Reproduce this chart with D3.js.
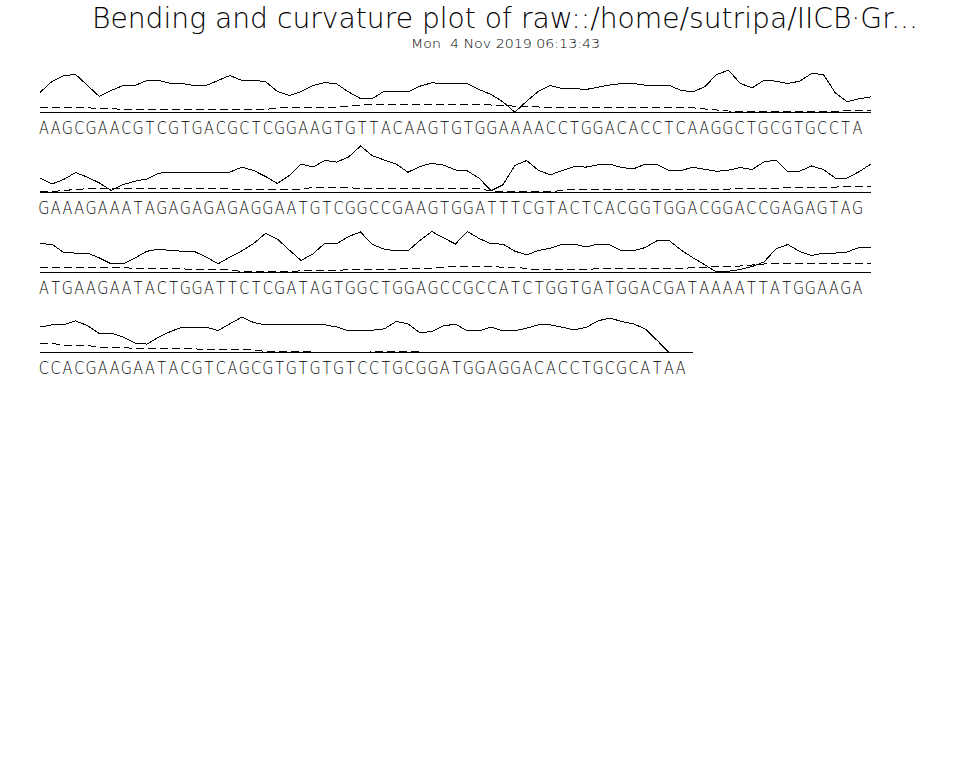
<!DOCTYPE html>
<html><head><meta charset="utf-8">
<script src="https://cdn.jsdelivr.net/npm/d3@7"></script>
<style>
body{margin:0;background:#fff}
svg text{font-family:"DejaVu Sans",sans-serif;font-weight:200;fill:#000;white-space:pre}
</style>
</head><body>
<svg id="c" width="960" height="768"></svg>
<script>
const titleText = "Bending and curvature plot of raw::/home/sutripa/IICB\u00b7Gr...";
const subtitleText = "Mon  4 Nov 2019 06:13:43";

const seq1 = "AAGCGAACGTCGTGACGCTCGGAAGTGTTACAAGTGTGGAAAACCTGGACACCTCAAGGCTGCGTGCCTA";
const seq2 = "GAAAGAAATAGAGAGAGAGGAATGTCGGCCGAAGTGGATTTCGTACTCACGGTGGACGGACCGAGAGTAG";
const seq3 = "ATGAAGAATACTGGATTCTCGATAGTGGCTGGAGCCGCCATCTGGTGATGGACGATAAAATTATGGAAGA";
const seq4 = "CCACGAAGAATACGTCAGCGTGTGTGTCCTGCGGATGGAGGACACCTGCGCATAA";

const bend1 = [20,31,37,38,27,16,22,27,27,32,32,29,29,27,27,32,37,32,32,31,21,17,21,27,30,28.5,20.5,14,14,21.3,20.7,20.7,26.3,29.7,29,29,29,23,18,10.7,0.3,11.3,21.3,27,24,24,23,25.3,27.5,29,29,27.3,27.3,27.3,22,20.7,25.7,38,42.3,29,24.7,32.3,31.3,29,31.3,39,38,19.7,10.7,13.7,15.7];
const curve1 = [4.7,4.7,4.7,4.7,4.7,4,4,3,3,3,3,3,3,3,3,3,3,3,3,3,4.7,4.7,4.7,4.7,4.7,5.5,6.5,7.5,8,8,8,8,8,8,8,8,8,8,7.5,7,6.3,6,5.5,5.3,5.3,5.3,5.3,5.3,5.3,5.3,5.3,4.7,4.7,4.7,4.7,4.7,3.5,2.5,1.5,1,0.7,0.7,0.7,0.7,0.7,0.7,0.7,0.7,2,2,2];

const bend2 = [14.4,8.5,13,20,15.3,9.6,2,7.9,11.3,13.5,19.3,20.4,20.4,20.4,20.4,20.4,20.4,25.4,22,16,9,17,28.4,25.4,32,30.4,35.5,46.5,36.8,32.5,28.5,20.2,26,29.2,27.4,22.5,21.6,14.3,1.7,7.7,27,32,22,17.7,22,26,25.4,27.7,28.4,25,23.7,28.4,28,22,22,25.2,23.2,21.2,22.3,25,23,30.6,32.3,21,21.3,26.5,23,14.4,14.4,20.8,28.4];
const curve2 = [1,1,2,3,3.8,4.4,4.4,4.4,4.4,4.4,4.4,4.4,4.4,4.4,4.4,4.4,3.4,3.4,3.4,3.4,3.4,3.4,3.4,5,5,5,5,3.7,3.7,3.7,3.7,3.7,3.7,3.7,3.7,3.7,3.7,3.7,1.5,0.8,0.8,0.8,0.8,0.8,2,3.2,3.2,3.2,3.2,3.4,3.4,3.4,3.4,3.4,3.4,3.4,3.4,3.4,3.4,4.2,4.2,4.2,4.2,5.3,5.3,5.3,5.3,5.3,6.5,6.5,6.5];

const bend3 = [28.7,28.3,20,19.4,19.4,14.6,8.7,8.7,14.4,21.2,23.3,22,21.3,21,15.6,8.7,15.4,21.6,29,39.2,33.4,22.5,12,18.7,29.2,28.7,36,40.5,28,23.3,21.7,21.7,32,41,34.6,28.5,41,34,28.7,28.4,21.3,17.7,22,24.4,28.4,28.4,25.4,28.4,27.5,21.7,21.7,25,32,32,22.5,14.8,7.7,0.5,1.3,3,6,10.6,23.6,28,21,17.1,19.4,19.4,20.5,25,25];
const curve3 = [5.4,5.4,5.4,5.4,5.4,5.4,5.4,5.4,3.7,3.7,3.7,3.7,3.7,2.7,2.7,2.7,2.7,1,1,1,1,1,1.7,1.7,1.8,2,3,3,3.4,3.4,3.4,4.4,4.4,4.4,5.2,6,6,6,6,5.2,5.2,4,2.7,2.7,2.7,2.7,3.2,3.7,3.7,3.7,3.7,3.7,3.7,3.7,3.7,5,5,6.5,6.5,6.5,7.5,8.5,9.5,9.5,9.5,9.5,9.5,9.5,9.5,9.5,9];

const bend4 = [25.4,27.7,27.7,31.6,26.9,18.9,19.4,15.5,9.4,8.4,15.4,21,25.4,25.4,25.4,22,28.7,35.4,30,27.7,27.7,27.7,27.7,27.7,27.7,25.5,21.7,21.7,22.3,23.6,31,28.7,19.6,21,26.6,28.4,21.7,21.7,25.4,21.7,21.7,24.4,27.7,27.7,25.2,22.7,25,31.6,34.5,31,28.7,23.4,12,0];
const curve4 = [9.4,9.4,7,7,7,5.4,5.4,5.4,3.7,3.7,3.7,3.7,3.7,3.7,2.7,2.7,2.7,2.7,2.7,1,1,0.6,0.6,0.6,0,0,0,0,0.6,0.6,0.6,0.6,0.6,0,0,0,0,0,0,0,0,0,0,0,0,0,0,0,0,0,0,0,0,0];

const rows = [
  {seq: seq1, bend: bend1, curve: curve1},
  {seq: seq2, bend: bend2, curve: curve2},
  {seq: seq3, bend: bend3, curve: curve3},
  {seq: seq4, bend: bend4, curve: curve4}
];

const svg = d3.select("#c");

svg.append("text").attr("x", 92).attr("y", 28)
  .attr("font-size", 27.5).attr("textLength", 826).attr("lengthAdjust", "spacingAndGlyphs")
  .text(titleText);
svg.append("text").attr("x", 411).attr("y", 48)
  .attr("font-size", 13).attr("textLength", 189).attr("lengthAdjust", "spacingAndGlyphs")
  .text(subtitleText);

const x = d3.scaleLinear().domain([0, 70]).range([40, 40 + 70 * 11.87]);
const xLetter = d3.scaleLinear().domain([0, 69]).range([43.8, 857.5]);
const rowBase = d3.scaleLinear().domain([0, 3]).range([112.5, 352.5]);
const squeeze = 0.8;

rows.forEach((r, ri) => {
  const base = rowBase(ri);
  const y = d3.scaleLinear().domain([0, 50]).range([base, base - 50]);
  const g = svg.append("g");
  const n = r.seq.length;
  g.append("line").attr("x1", x(0)).attr("x2", x(n)).attr("y1", y(0)).attr("y2", y(0))
    .attr("stroke", "#000").attr("stroke-width", 1).attr("shape-rendering", "crispEdges");
  const line = d3.line().x((d, i) => x(i)).y(d => y(d));
  g.append("path").attr("d", line(r.curve)).attr("fill", "none")
    .attr("stroke", "#000").attr("stroke-width", 1).attr("stroke-dasharray", "8,4")
    .attr("shape-rendering", "crispEdges");
  g.append("path").attr("d", line(r.bend)).attr("fill", "none")
    .attr("stroke", "#000").attr("stroke-width", 1).attr("shape-rendering", "crispEdges");
  g.selectAll("text.base").data(r.seq.split("")).enter().append("text")
    .attr("class", "base")
    .attr("transform", (d, i) => `translate(${xLetter(i).toFixed(2)},${base + 21.5}) scale(${squeeze},1)`)
    .attr("text-anchor", "middle").attr("font-size", 18)
    .text(d => d);
});
</script>
</body></html>
